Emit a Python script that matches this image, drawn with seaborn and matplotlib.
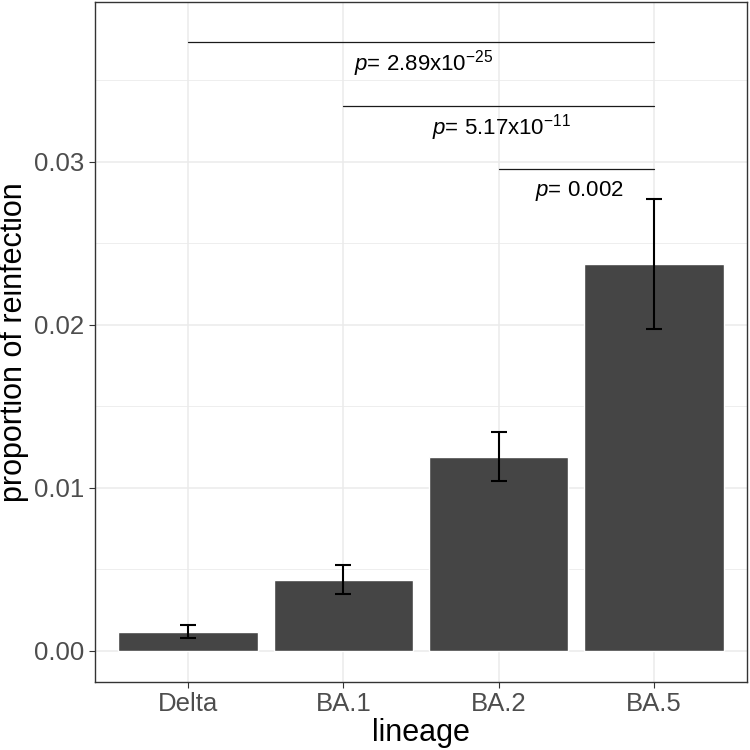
import numpy as np
import pandas as pd
import matplotlib
matplotlib.use("Agg")
import matplotlib.pyplot as plt
import seaborn as sns

# ---------------- data ----------------
lineage = ["Delta", "BA.1", "BA.2", "BA.5"]
proportion = [0.00118, 0.00437, 0.01192, 0.02374]
ci_low = [0.00082, 0.00350, 0.01043, 0.01975]
ci_high = [0.00160, 0.00528, 0.01344, 0.02775]

# pairwise comparisons (index into lineage) and their p-values
comp_start = [0, 1, 2]
comp_end = [3, 3, 3]
bracket_y = [0.03735, 0.03345, 0.02957]
p_text = [r"2.89x10$^{-25}$", r"5.17x10$^{-11}$", "0.002"]

# ---------------- style ----------------
sns.set_theme(style="whitegrid")
plt.rcParams["font.family"] = ["Liberation Sans", "DejaVu Sans"]
plt.rcParams["mathtext.fontset"] = "custom"
plt.rcParams["mathtext.rm"] = "Liberation Sans"
plt.rcParams["mathtext.it"] = "Liberation Sans:italic"

df = pd.DataFrame({"lineage": lineage, "proportion": proportion})

fig = plt.figure(figsize=(7.5, 7.5), dpi=100)
ax = fig.add_axes([0.1267, 0.0907, 0.8693, 0.9066])

sns.barplot(data=df, x="lineage", y="proportion", color="#454545",
            saturation=1, width=0.9, errorbar=None, ax=ax, zorder=2)

pos = np.arange(len(lineage))
yerr = [np.array(proportion) - np.array(ci_low), np.array(ci_high) - np.array(proportion)]
ax.errorbar(pos, proportion, yerr=yerr, fmt="none", ecolor="black",
            elinewidth=1.5, capsize=5.8, capthick=1.5, zorder=3)

# significance brackets
for s, e, y, t in zip(comp_start, comp_end, bracket_y, p_text):
    ax.plot([pos[s], pos[e]], [y, y], color="#1a1a1a", lw=0.9, zorder=3)
    ax.text((pos[s] + pos[e]) / 2 + 0.02, y - 0.00135, r"$\it{p}$= " + t,
            ha="center", va="center", fontsize=16, color="black")

# ---------------- axes ----------------
ax.set_xlim(-0.6, 3.6)
ax.set_ylim(-0.0019, 0.0398)
ax.set_yticks([0, 0.01, 0.02, 0.03])
ax.set_yticklabels(["0.00", "0.01", "0.02", "0.03"])
ax.set_yticks([0.005, 0.015, 0.025, 0.035], minor=True)
ax.set_xlabel("lineage", fontsize=22, color="black", labelpad=1)
ax.set_ylabel("proportion of reinfection", fontsize=22, color="black", labelpad=4)

ax.set_axisbelow(True)
ax.grid(True, which="major", axis="both", color="#EBEBEB", lw=1.1)
ax.grid(True, which="minor", axis="y", color="#EBEBEB", lw=0.6)
ax.tick_params(axis="both", which="major", labelsize=18.5, labelcolor="#4D4D4D",
               length=4.5, width=0.8, color="#333333", left=True, bottom=True, pad=3)
ax.tick_params(axis="y", which="minor", length=0)
for sp in ax.spines.values():
    sp.set_visible(True)
    sp.set_color("#333333")
    sp.set_linewidth(1.0)
ax.set_facecolor("white")

fig.savefig("out.png", dpi=100)
